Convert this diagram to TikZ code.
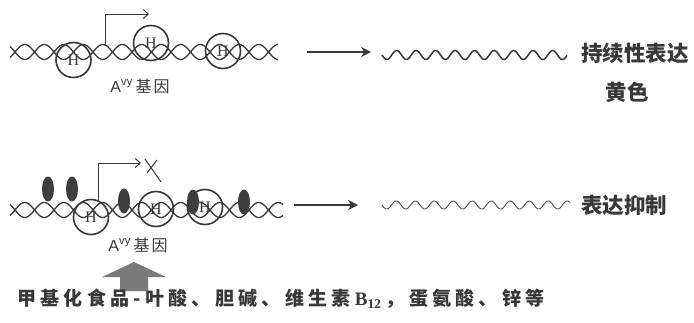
\documentclass[tikz,border=0pt]{standalone}
\usepackage{fontspec}
\newfontfamily\cjk{Noto Sans CJK SC}
\newfontfamily\tms{Liberation Serif}
\newfontfamily\lsans{Liberation Sans}
\usetikzlibrary{arrows.meta,shapes.geometric}
\definecolor{ink}{HTML}{383838}
\definecolor{blob}{HTML}{3E3E3E}
\definecolor{bigarrow}{HTML}{7A7A7A}
\definecolor{thinwave}{HTML}{505050}
% tracked text: a fixed kern after every character
\newdimen\trackgap
\trackgap=4.3pt
\def\trackend{\trackend}
\def\trackloop#1{\ifx\trackend#1\else#1\kern\trackgap\relax\expandafter\trackloop\fi}
\newcommand\tracked[1]{\trackloop#1\trackend}
\begin{document}
\begin{tikzpicture}[x=1pt,y=-1pt,
  strand/.style={ink, line width=1.3pt},
  histone/.style={circle, draw=ink, line width=1.6pt, minimum size=35pt,
    inner sep=0pt, text=ink, font=\tms\fontsize{16}{16}\selectfont},
  methyl/.style={ellipse, fill=blob, draw=none, minimum width=12pt,
    minimum height=25pt, inner sep=0pt},
  promoter/.style={ink, line width=1pt, -{Straight Barb[length=5pt,width=9pt]}},
  flow/.style={ink, line width=2pt, -{Stealth[length=10pt,width=10pt]}},
  genelabel/.style={text=ink, font=\fontsize{16}{16}\selectfont, inner sep=0pt},
  outlabel/.style={text=ink, font=\cjk\bfseries\fontsize{21.5}{21.5}\selectfont, inner sep=0pt},
  foodlabel/.style={text=ink, font=\cjk\bfseries\fontsize{19}{19}\selectfont, inner sep=0pt}]
\useasboundingbox (0,0) rectangle (694,322);
\fill[white] (0,0) rectangle (694,322);

% ---- active allele: double helix with histones ----
\draw[strand] plot[domain=10:278, samples=240] (\x, {52 + 7.5*sin(9.231*(\x-15))});
\draw[strand] plot[domain=10:278, samples=240] (\x, {52 - 7.5*sin(9.231*(\x-15))});
\node[histone] (h1) at (73.5,60) {H};
\node[histone] (h2) at (151,43) {H};
\node[histone] (h3) at (223,51) {H};
\coordinate (tss1) at (105,46);
\coordinate (tip1) at (149,14);
\draw[promoter] (tss1) |- (tip1);
\node[genelabel] (g1) at (140,86) {\lsans A\textsuperscript{vy}\,\cjk 基\kern2pt 因};

\coordinate (fa1) at (307,52);
\coordinate (fb1) at (371,52);
\draw[flow] (fa1) -- (fb1);
\draw[ink, line width=1.5pt] plot[domain=382:567, samples=240] (\x, {55 + 4.5*sin(18.46*(\x-382))});
\node[outlabel, anchor=west] (o1) at (581,53) {持续性表达};
\node[outlabel] (o2) at (627,92) {黄色};

% ---- silenced allele: methylated helix ----
\draw[strand] plot[domain=10:283, samples=240] (\x, {210 + 7.5*sin(9.231*(\x-15))});
\draw[strand] plot[domain=10:283, samples=240] (\x, {210 - 7.5*sin(9.231*(\x-15))});
\node[methyl] (m1) at (48,189) {};
\node[methyl] (m2) at (72,189) {};
\node[methyl] (m3) at (124,201) {};
\node[methyl] (m4) at (193,202) {};
\node[methyl] (m5) at (244,202) {};
\node[histone] (k1) at (91,217) {H};
\node[histone] (k2) at (156,209) {H};
\node[histone] (k3) at (205,207) {H};
\coordinate (tss2) at (98,200);
\coordinate (tip2) at (141,163);
\draw[promoter] (tss2) |- (tip2);
% blocked transcription
\draw[ink, line width=1pt] (145,159) -- (161,182);
\draw[ink, line width=1pt] (157,160) -- (147,173);
\node[genelabel] (g2) at (138,245) {\lsans A\textsuperscript{vy}\,\cjk 基\kern2pt 因};

\coordinate (fa2) at (294,205);
\coordinate (fb2) at (358,205);
\draw[flow] (fa2) -- (fb2);
\draw[thinwave, line width=0.9pt] plot[domain=382:570, samples=240] (\x, {205 + 4*sin(18.95*(\x-382))});
\node[outlabel, anchor=west] (o3) at (581,205) {表达抑制};

% ---- dietary methyl donors ----
\fill[bigarrow] (134,262) -- (166,277) -- (148,277) -- (148,291)
  -- (120,291) -- (120,277) -- (102,277) -- cycle;
\node[foodlabel, anchor=west] (food) at (17,299)
  {\tracked{甲基化食品-叶酸、胆碱、维生素}{\tms\bfseries B\textsubscript{12}}\kern\trackgap\tracked{，蛋氨酸、锌等}};
\end{tikzpicture}
\end{document}
